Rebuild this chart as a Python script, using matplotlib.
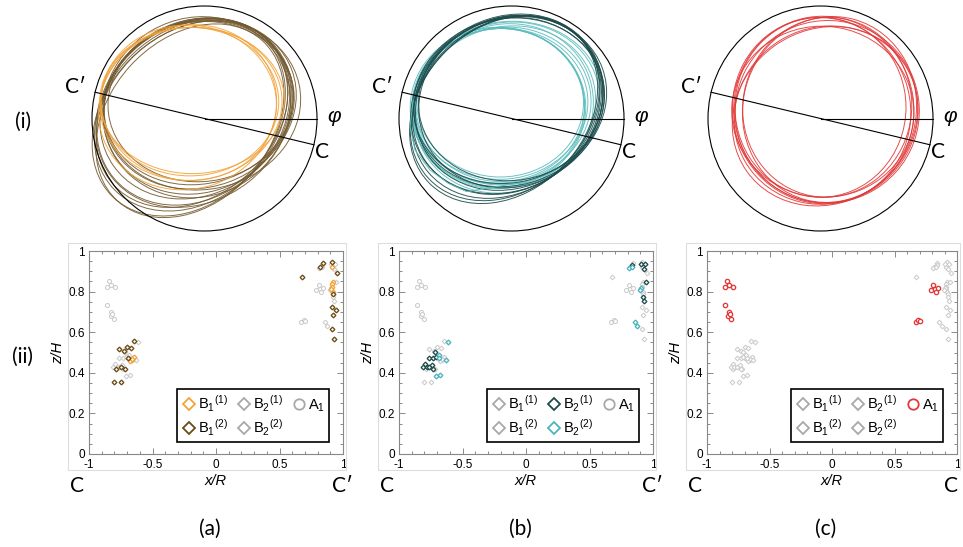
import numpy as np
import matplotlib
matplotlib.use("Agg")
import matplotlib.pyplot as plt
from matplotlib.patches import Ellipse, Circle, Rectangle
from matplotlib.lines import Line2D
from matplotlib.ticker import FixedLocator, FixedFormatter, MultipleLocator

plt.rcParams['axes.unicode_minus'] = False
plt.rcParams['font.family'] = ['Liberation Sans', 'DejaVu Sans']
plt.rcParams['mathtext.fontset'] = 'custom'
plt.rcParams['mathtext.rm'] = 'Liberation Sans'
plt.rcParams['mathtext.it'] = 'Liberation Sans:italic'

# ---------------- data: impact points (x/R, z/H) ----------------
B1_1_x = [-0.643, -0.659, -0.675, -0.66, 0.913, 0.919, 0.913, 0.911, 0.908, 0.92]
B1_1_z = [0.476, 0.463, 0.46, 0.47, 0.923, 0.849, 0.836, 0.824, 0.811, 0.80]

B1_2_x = [-0.646, -0.761, -0.727, -0.698, -0.672, -0.693, -0.748, -0.717, -0.79, -0.803, -0.748,
          0.84, 0.819, 0.916, 0.95, 0.675, 0.924, 0.911, 0.945, 0.924, 0.913, 0.927]
B1_2_z = [0.557, 0.517, 0.509, 0.528, 0.52, 0.471, 0.43, 0.419, 0.417, 0.353, 0.356,
          0.942, 0.92, 0.946, 0.89, 0.874, 0.79, 0.723, 0.709, 0.685, 0.614, 0.567]

B2_1_x = [-0.714, -0.764, -0.73, -0.711, -0.795, -0.808, -0.782, -0.764, -0.738, -0.73,
          0.837, 0.906, 0.937, 0.929, 0.945, 0.924, 0.932]
B2_1_z = [0.502, 0.473, 0.471, 0.476, 0.443, 0.43, 0.43, 0.427, 0.438, 0.419,
          0.933, 0.936, 0.936, 0.91, 0.849, 0.775, 0.755]

B2_2_x = [-0.614, -0.685, -0.683, -0.632, -0.709, -0.677,
          0.811, 0.832, 0.906, 0.898, 0.858, 0.876]
B2_2_z = [0.55, 0.488, 0.473, 0.463, 0.384, 0.388,
          0.918, 0.92, 0.816, 0.808, 0.652, 0.631]

A1_x = [-0.84, -0.855, -0.825, -0.795, -0.855, -0.825, -0.83, -0.805, -0.815,
        0.67, 0.69, 0.70, 0.79, 0.81, 0.82, 0.83, 0.845]
A1_z = [0.851, 0.823, 0.831, 0.821, 0.732, 0.700, 0.680, 0.664, 0.692,
        0.650, 0.661, 0.653, 0.810, 0.833, 0.814, 0.800, 0.817]

# ---------------- data: trajectory loops (cx, cy, width, height, angle) ----------------
loops_a_B1_1 = [(-0.13, 0.15, 1.58, 1.32, 0), (-0.12, 0.13, 1.62, 1.36, 5), (-0.14, 0.14, 1.56, 1.38, -5),
                (-0.11, 0.16, 1.64, 1.30, 0), (-0.15, 0.10, 1.60, 1.45, 20)]
loops_a_B1_2 = [(-0.05, 0.14, 1.70, 1.44, 15), (-0.04, 0.13, 1.74, 1.48, 20), (-0.06, 0.11, 1.72, 1.52, 28),
                (-0.08, 0.09, 1.78, 1.52, 35), (-0.10, 0.06, 1.84, 1.52, 40), (-0.12, 0.03, 1.90, 1.50, 44),
                (-0.14, 0.00, 1.94, 1.48, 46), (-0.13, -0.02, 1.92, 1.44, 48), (-0.09, 0.05, 1.86, 1.56, 38),
                (-0.03, 0.15, 1.66, 1.42, 8), (-0.07, 0.10, 1.70, 1.58, 30), (-0.11, 0.04, 1.88, 1.46, 42),
                (-0.02, 0.12, 1.76, 1.50, 12)]
loops_b_B2_1 = [(0.0, 0.15, 1.68, 1.50, 25), (-0.02, 0.14, 1.72, 1.50, 30), (-0.04, 0.12, 1.76, 1.50, 35),
                (-0.05, 0.10, 1.80, 1.48, 40), (-0.03, 0.16, 1.70, 1.46, 15), (-0.01, 0.15, 1.74, 1.48, 20),
                (-0.06, 0.09, 1.84, 1.46, 42), (0.0, 0.17, 1.66, 1.44, 10), (-0.04, 0.13, 1.78, 1.52, 32),
                (-0.07, 0.08, 1.86, 1.46, 45)]
loops_b_B2_2 = [(-0.10, 0.12, 1.50, 1.36, 0), (-0.09, 0.13, 1.54, 1.34, 5), (-0.11, 0.11, 1.52, 1.40, -5),
                (-0.08, 0.12, 1.58, 1.38, 10), (-0.10, 0.14, 1.48, 1.32, 0), (-0.06, 0.10, 1.64, 1.42, 20),
                (-0.05, 0.12, 1.68, 1.46, 15), (-0.12, 0.10, 1.56, 1.42, 0), (-0.07, 0.09, 1.62, 1.48, 25),
                (-0.04, 0.14, 1.70, 1.44, 10)]
excursion_b_x = [-0.873, -0.902, -0.858, -0.724, -0.562, -0.398, -0.22, -0.043, 0.135]
excursion_b_y = [0.164, -0.073, -0.28, -0.458, -0.576, -0.65, -0.62, -0.591, -0.57]
loops_c_A1 = [(0.03, 0.08, 1.60, 1.66, 10), (0.06, 0.06, 1.64, 1.62, 20), (0.00, 0.10, 1.52, 1.60, 0),
              (0.05, 0.03, 1.66, 1.56, 30), (0.08, 0.08, 1.54, 1.66, -15), (0.02, 0.06, 1.62, 1.52, -5),
              (0.04, 0.02, 1.70, 1.54, 35), (0.06, 0.10, 1.50, 1.60, -10), (0.01, 0.07, 1.58, 1.66, 15)]

# colours
ORANGE = '#F2A33A'
BROWN = '#6B4A14'
TEAL_D = '#1E4B4B'
CYAN = '#4DB3BD'
RED = '#E23A3A'
GRAY_PT = '#CCCCCC'
GRAY_LEG = '#A8A8A8'

W, H = 963, 547
fig = plt.figure(figsize=(W / 100, H / 100), dpi=100)


def px_axes(x0, y0, x1, y1):
    return fig.add_axes([x0 / W, 1 - y1 / H, (x1 - x0) / W, (y1 - y0) / H])


R = 112.5
top_centers = [(204.5, 118.5), (511.5, 118.5), (820.5, 118.5)]
top_loops = [
    [(loops_a_B1_2, '#735A30'), (loops_a_B1_1, ORANGE)],
    [(loops_b_B2_2, '#5DBDBE'), (loops_b_B2_1, TEAL_D)],
    [(loops_c_A1, RED)],
]

for k, (cx, cy) in enumerate(top_centers):
    half = 118
    ax = px_axes(cx - half, cy - half, cx + half, cy + half)
    lim = half / R
    ax.set_xlim(-lim, lim)
    ax.set_ylim(-lim, lim)
    ax.axis('off')
    for loops, col in top_loops[k]:
        for (ex, ey, ew, eh, ea) in loops:
            ax.add_patch(Ellipse((ex, ey), ew, eh, angle=ea, fill=False, ec=col, lw=0.7, alpha=0.9))
    if k == 1:
        ax.plot(excursion_b_x, excursion_b_y, color='#5DBDBE', lw=0.7)
    ax.add_patch(Circle((0, 0), 1.0, fill=False, ec='black', lw=0.8))
    th = np.deg2rad(166.5)
    ax.plot([np.cos(th), -np.cos(th)], [np.sin(th), -np.sin(th)], color='black', lw=0.8)
    ax.plot([0, 1], [0, 0], color='black', lw=0.8)
    ax.text(-1.151, 0.276, 'C\u2032', fontsize=15, family=['Lato', 'DejaVu Sans'],
            ha='center', va='center', clip_on=False)
    ax.text(1.151, 0.0, r'$\varphi$', fontsize=15, ha='center', va='center', clip_on=False)
    ax.text(1.044, -0.302, 'C', fontsize=15, family=['Lato', 'DejaVu Sans'],
            ha='center', va='center', clip_on=False)

# ---------------- bottom scatter panels ----------------
groups = [
    ('B1_1', B1_1_x, B1_1_z, 'D', 'B$_1$$^{(1)}$'),
    ('B1_2', B1_2_x, B1_2_z, 'D', 'B$_1$$^{(2)}$'),
    ('B2_1', B2_1_x, B2_1_z, 'D', 'B$_2$$^{(1)}$'),
    ('B2_2', B2_2_x, B2_2_z, 'D', 'B$_2$$^{(2)}$'),
    ('A1', A1_x, A1_z, 'o', 'A$_1$'),
]
highlight = [
    {'B1_1': ORANGE, 'B1_2': BROWN},
    {'B2_1': TEAL_D, 'B2_2': CYAN},
    {'A1': RED},
]
bottom_boxes = [(89, 343), (399, 653), (707, 957)]
frame_boxes = [(68, 346), (378, 656), (686, 960)]
bottom_right = ['C\u2032', 'C\u2032', 'C']
panel_tags = ['(a)', '(b)', '(c)']

for k, (x0, x1) in enumerate(bottom_boxes):
    fx0, fx1 = frame_boxes[k]
    fig.patches.append(Rectangle((fx0 / W, 1 - 470 / H), (fx1 - fx0) / W, (470 - 243) / H,
                                 transform=fig.transFigure, fill=False, ec='#DDDDDD', lw=0.8))
    ax = px_axes(x0, 251, x1, 454)
    ax.set_xlim(-1, 1)
    ax.set_ylim(0, 1)
    hl = highlight[k]
    # grey points first, highlighted on top
    for name, gx, gz, mk, lab in groups:
        if name not in hl:
            ax.plot(gx, gz, ls='none', marker=mk, ms=2.4 if mk == 'D' else 2.9,
                    mfc='white', mec=GRAY_PT, mew=0.75)
    for name, gx, gz, mk, lab in groups:
        if name in hl:
            ax.plot(gx, gz, ls='none', marker=mk, ms=2.4 if mk == 'D' else 3.1,
                    mfc='white', mec=hl[name], mew=0.95)
    handles = []
    for name, gx, gz, mk, lab in groups:
        c = hl.get(name, GRAY_LEG)
        handles.append(Line2D([], [], ls='none', marker=mk, ms=6 if mk == 'D' else 7.5,
                              mfc='white', mec=c, mew=1.3, label=lab))
    leg = ax.legend(handles=handles, ncol=3, loc='lower right', bbox_to_anchor=(0.945, 0.058),
                    fontsize=10.5, frameon=True, fancybox=False, framealpha=1, edgecolor='black',
                    borderpad=0.3, handletextpad=0.05, columnspacing=0.55, labelspacing=0.25,
                    handlelength=1.1, borderaxespad=0)
    leg.get_frame().set_linewidth(1.2)

    for sp in ax.spines.values():
        sp.set_color('#888888')
        sp.set_linewidth(0.8)
    ax.xaxis.set_major_locator(FixedLocator([-1, -0.5, 0, 0.5, 1]))
    ax.xaxis.set_major_formatter(FixedFormatter(['-1', '-0.5', '0', '0.5', '1']))
    ax.xaxis.set_minor_locator(MultipleLocator(0.1))
    ax.yaxis.set_major_locator(FixedLocator([0, 0.2, 0.4, 0.6, 0.8, 1]))
    ax.yaxis.set_major_formatter(FixedFormatter(['0', '0.2', '0.4', '0.6', '0.8', '1']))
    ax.yaxis.set_minor_locator(MultipleLocator(0.05))
    ax.tick_params(which='both', direction='in', top=True, right=True, color='#777777', width=0.6,
                   labelsize=8.5)
    ax.tick_params(axis='x', pad=3.5)
    ax.tick_params(axis='y', pad=3)
    ax.tick_params(which='major', length=4)
    ax.tick_params(which='minor', length=2)
    ax.set_ylabel('z/H', fontsize=10.5, style='italic', labelpad=2)
    ax.set_xlabel('x/R', fontsize=10.5, style='italic', labelpad=2)

    mid = (x0 + x1) / 2
    fig.text((x0 - 12) / W, 1 - 486 / H, 'C', fontsize=15, family=['Lato', 'DejaVu Sans'],
             ha='center', va='center')
    fig.text((x1 - 1) / W if k < 2 else (x1 - 6) / W, 1 - 486 / H, bottom_right[k], fontsize=15,
             family=['Lato', 'DejaVu Sans'], ha='center', va='center')
    fig.text((mid - 6) / W, 1 - 529 / H, panel_tags[k], fontsize=15, family=['Lato', 'DejaVu Sans'],
             ha='center', va='center')

fig.text(23 / W, 1 - 122 / H, '(i)', fontsize=15, family=['Lato', 'DejaVu Sans'], ha='center', va='center')
fig.text(22.5 / W, 1 - 357 / H, '(ii)', fontsize=15, family=['Lato', 'DejaVu Sans'], ha='center', va='center')

fig.savefig('out.png', dpi=100)
